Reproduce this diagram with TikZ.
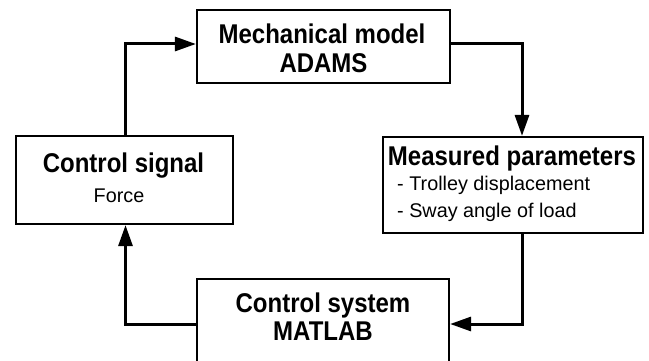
\documentclass[tikz,border=0pt]{standalone}
\usepackage{fontspec}
\usepackage{graphicx}
\setmainfont{Liberation Sans}
\usetikzlibrary{arrows.meta}
\newcommand{\vstr}[1]{\scalebox{1}[1.13]{#1}}
\begin{document}
\begin{tikzpicture}[x=1pt,y=-1pt,
  box/.style={draw=black, line width=2.2pt, rectangle, inner sep=0pt},
  arr/.style={line width=3pt, -{Triangle[length=21pt,width=14pt]}},
  big/.style={font=\fontsize{24}{28}\selectfont\bfseries, inner sep=0pt, anchor=base},
  small/.style={font=\fontsize{19.8}{23}\selectfont, inner sep=0pt, anchor=base}]
\useasboundingbox (0,0) rectangle (649,361);
\begin{scope}
\clip (0,0) rectangle (649,361);
\node[box, minimum width=253pt, minimum height=73pt] (mech) at (323.5,46.5) {};
\node[box, minimum width=217pt, minimum height=88pt] (csig) at (124.2,180) {};
\node[box, minimum width=260pt, minimum height=96pt] (meas) at (513,185) {};
\node[box, minimum width=252pt, minimum height=90pt] (ctrl) at (323,324) {};

\node[big] (t1) at (322,44) {\vstr{Mechanical model}};
\node[big] (t2) at (323.5,73) {\vstr{ADAMS}};
\node[big] (t3) at (123.5,172) {\vstr{Control signal}};
\node[small] (t4) at (119,202) {Force};
\node[big] (t5) at (512,165) {\vstr{Measured parameters}};
\node[small, anchor=base west] (t6) at (397,190) {- Trolley displacement};
\node[small, anchor=base west] (t7) at (397,218) {- Sway angle of load};
\node[big] (t8) at (323,312) {\vstr{Control system}};
\node[big] (t9) at (323,340) {\vstr{MATLAB}};

\draw[arr] ([xshift=1.3pt]csig.north) |- ([yshift=2.5pt]mech.west);
\draw[arr] ([yshift=2.5pt]mech.east) -| ([xshift=9pt]meas.north);
\draw[arr] ([xshift=9pt]meas.south) |- (ctrl.east);
\draw[arr] (ctrl.west) -| ([xshift=1.3pt]csig.south);
\end{scope}
\end{tikzpicture}
\end{document}
